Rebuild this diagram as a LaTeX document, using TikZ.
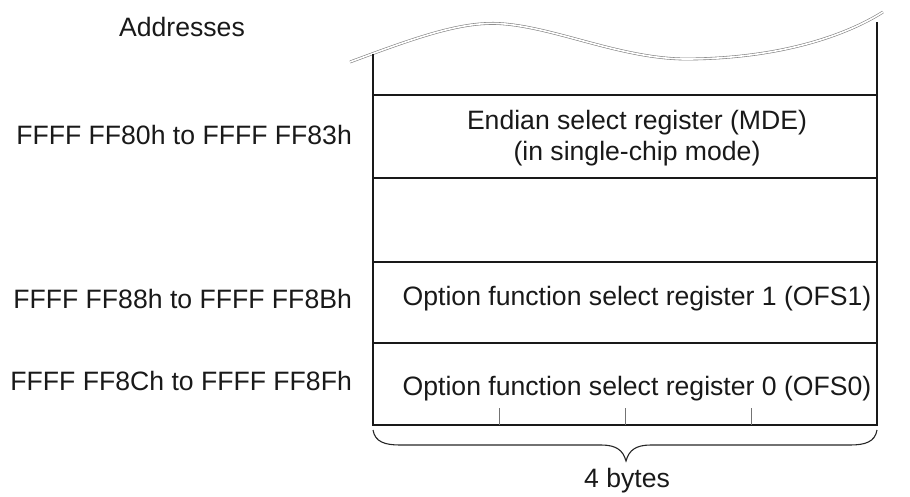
\documentclass[tikz,border=0pt]{standalone}
\usepackage{fontspec}
\setmainfont{Liberation Sans}
\begin{document}
\begin{tikzpicture}[x=1pt,y=-1pt,
  txt/.style={inner sep=0pt,font=\fontsize{26.6}{31}\selectfont,text=black!90},
  frame/.style={line width=1.8pt,black!90},
  tick/.style={line width=0.7pt,black!55},
  wave/.style={line width=0.6pt,draw=black!50,double=white,double distance=1.6pt}]
\useasboundingbox (0,0) rectangle (910,497);
% coordinates of the frame
\coordinate (tl) at (373,54);
\coordinate (tr) at (877,22);
\coordinate (bl) at (373,425);
\coordinate (br) at (877,425);
% wavy break line
\draw[wave] (350,62) .. controls (420,36) and (465,20) .. (505,24)
  .. controls (560,29) and (625,60) .. (690,59)
  .. controls (780,58) and (845,36) .. (883,12);
% frame
\draw[frame] (tl) -- (bl) -- (br) -- (tr);
\foreach \y in {95,178,262,343}
  \draw[frame] (373,\y) -- (877,\y);
% byte ticks
\foreach \x in {499,625,751}
  \draw[tick] (\x,408) -- (\x,425);
% brace
\coordinate (bb) at (373,430);
\coordinate (be) at (877,430);
\coordinate (btip) at (626,461);
\draw[line width=1.1pt,black!85] (bb) .. controls (375,442) and (385,445) .. (400,445)
  -- (601,445) .. controls (616,445) and (623,450) .. (btip)
  .. controls (629,450) and (636,445) .. (651,445)
  -- (850,445) .. controls (865,445) and (875,442) .. (be);
% texts
\node[txt] (addr) at (182,27) {Addresses};
\node[txt,anchor=east] (a1) at (352,135) {FFFF FF80h to FFFF FF83h};
\node[txt,anchor=east] (a2) at (352,299) {FFFF FF88h to FFFF FF8Bh};
\node[txt,anchor=east] (a3) at (352,381) {FFFF FF8Ch to FFFF FF8Fh};
\node[txt,align=center] (mde) at (637,138) {Endian select register (MDE)\\(in single-chip mode)};
\node[txt] (ofs1) at (637,299) {Option function select register 1 (OFS1)};
\node[txt] (ofs0) at (637,389) {Option function select register 0 (OFS0)};
\node[txt] (bytes) at (627,481) {4 bytes};
\end{tikzpicture}
\end{document}
